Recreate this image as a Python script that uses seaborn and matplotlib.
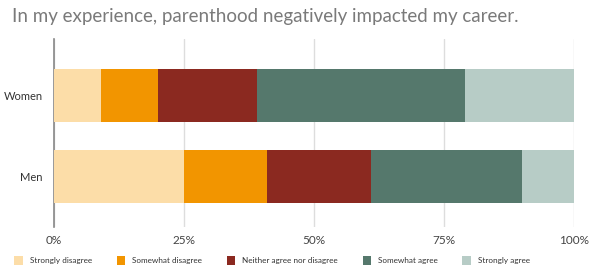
import pandas as pd
import seaborn as sns
import matplotlib.pyplot as plt
from matplotlib.patches import Patch

# Dane (w %)
groups = ['Women', 'Men']
answers = ['Strongly disagree', 'Somewhat disagree', 'Neither agree nor disagree',
           'Somewhat agree', 'Strongly agree']
women = [9, 11, 19, 40, 21]
men = [25, 16, 20, 29, 10]
colors = ['#FCDDA8', '#F29500', '#8B2920', '#55786C', '#B7CCC6']

df = pd.DataFrame([women, men], index=groups, columns=answers)
cum = df.cumsum(axis=1) / 100

sns.set_style('white')
plt.rcParams['font.family'] = ['Lato', 'DejaVu Sans']

fig = plt.figure(figsize=(5.89, 2.71), dpi=100)
ax = fig.add_axes([0.0917, 0.162, 0.883, 0.694])

# slupki skumulowane: od najdluzszego do najkrotszego, kazdy przykrywa poprzedni
for col, c in zip(reversed(answers), reversed(colors)):
    sns.barplot(x=cum[col].values, y=groups, orient='h', color=c,
                width=0.65, ax=ax, saturation=1, zorder=3,
                linewidth=0, edgecolor='none')

ax.set_xlim(0, 1)
ax.set_ylim(1.62, -0.70)
ax.set_xticks([0, 0.25, 0.5, 0.75, 1])
ax.set_xticklabels(['0%', '25%', '50%', '75%', '100%'], fontsize=8.5, color='#444444')
ax.tick_params(axis='x', length=0, pad=6)
ax.tick_params(axis='y', length=0, pad=8, labelsize=8, labelcolor='#333333')
ax.grid(axis='x', color='#dddddd', linewidth=1, zorder=0)
ax.set_axisbelow(True)
for s in ['top', 'right', 'bottom']:
    ax.spines[s].set_visible(False)
ax.spines['left'].set_color('#888888')
ax.spines['left'].set_linewidth(1.2)
ax.set_xlabel('')
ax.set_ylabel('')

fig.text(0.02, 0.94, 'In my experience, parenthood negatively impacted my career.',
         fontsize=13.5, color='#7a7a7a', va='center', ha='left')

handles = [Patch(facecolor=c, edgecolor='none') for c in colors]
fig.legend(handles, answers, loc='center left', bbox_to_anchor=(0.012, 0.04), ncol=5,
           frameon=False, fontsize=5.9, handlelength=1.0, handleheight=1.3,
           columnspacing=3.0, handletextpad=0.9, labelcolor='#333333')

plt.savefig('out.png', dpi=100)
